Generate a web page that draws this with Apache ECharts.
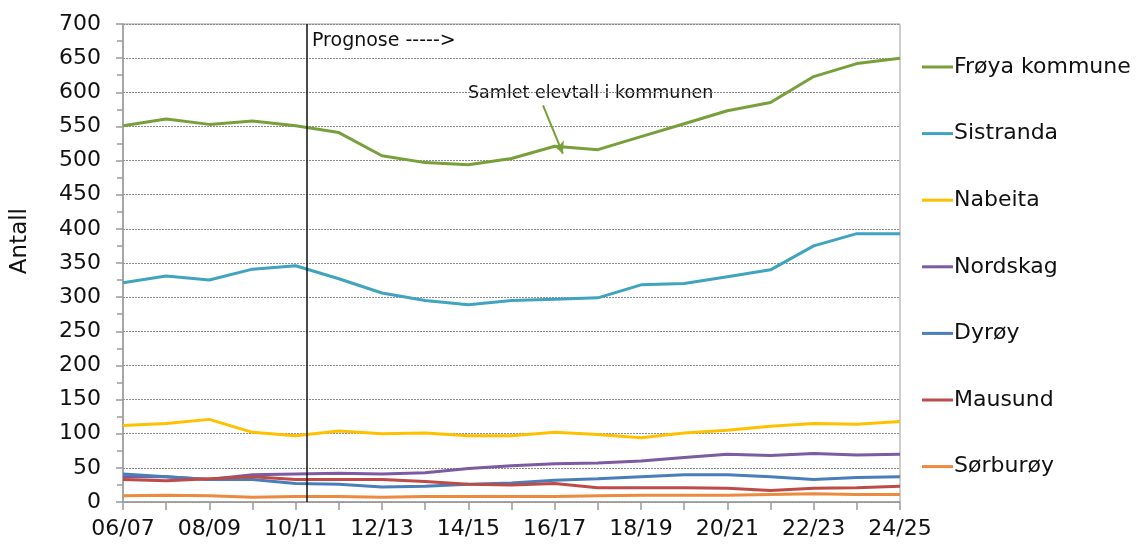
<!DOCTYPE html>
<html>
<head>
<meta charset="utf-8">
<script src="https://cdn.jsdelivr.net/npm/echarts@6/dist/echarts.min.js"></script>
<style>
  html, body { margin: 0; padding: 0; background: #fff; }
  #chart { width: 1141px; height: 550px; }
</style>
</head>
<body>
<div id="chart"></div>
<script>
// skoleår
var years = ["06/07", "07/08", "08/09", "09/10", "10/11", "11/12", "12/13", "13/14", "14/15", "15/16",
  "16/17", "17/18", "18/19", "19/20", "20/21", "21/22", "22/23", "23/24", "24/25"];

var froya     = [551, 561, 553, 558, 551, 541, 507, 497, 494, 503, 521, 516, 535, 554, 573, 585, 623, 642, 650];
var sistranda = [321, 331, 325, 341, 346, 327, 306, 295, 289, 295, 297, 299, 318, 320, 330, 340, 375, 393, 393];
var nabeita   = [112, 115, 121, 102, 97, 104, 100, 101, 97, 97, 102, 99, 94, 101, 105, 111, 115, 114, 118];
var nordskag  = [37, 37, 33, 40, 41, 42, 41, 43, 49, 53, 56, 57, 60, 65, 70, 68, 71, 69, 70];
var dyroy     = [41, 37, 33, 33, 27, 26, 22, 23, 26, 28, 32, 34, 37, 40, 40, 37, 33, 36, 37];
var mausund   = [33, 31, 34, 37, 33, 33, 33, 30, 26, 25, 27, 21, 21, 21, 20, 17, 20, 21, 23];
var sorburoy  = [9, 10, 9, 7, 8, 8, 7, 8, 8, 8, 8, 9, 10, 10, 10, 11, 12, 11, 11];

// prognose starter mellom 10/11 og 11/12 (indeks på kategoriaksen)
var prognoseAt = 4.25;
var arrowFrom = [9.73, 581];
var arrowTo = [10.19, 510];

var font = "DejaVu Sans";

var chart = echarts.init(document.getElementById("chart"));

function line(name, data, color) {
  return {
    name: name,
    type: "line",
    data: data,
    symbol: "none",
    lineStyle: { width: 3, color: color },
    itemStyle: { color: color }
  };
}

var option = {
  animation: false,
  grid: {
    left: 123, right: 241, top: 24, bottom: 48,
    show: true, borderColor: "#9a9a9a", borderWidth: 1
  },
  legend: {
    orient: "vertical",
    left: 917,
    top: 50,
    icon: "rect",
    itemWidth: 31,
    itemHeight: 3,
    itemGap: 42.6,
    data: ["Frøya kommune", "Sistranda", "Nabeita", "Nordskag", "Dyrøy", "Mausund", "Sørburøy"],
    textStyle: { fontFamily: font, fontSize: 22, color: "#111", lineHeight: 24, padding: [0, 0, 0, -4] }
  },
  xAxis: [
    {
      type: "category",
      data: years,
      boundaryGap: false,
      axisLine: { lineStyle: { color: "#9a9a9a", width: 1.5 } },
      axisTick: { interval: 0, length: 8, lineStyle: { color: "#9a9a9a", width: 1.5 } },
      axisLabel: { interval: 1, margin: 16, fontFamily: font, fontSize: 22, color: "#111" }
    },
    { type: "value", min: 0, max: 18, show: false }
  ],
  yAxis: {
    type: "value",
    min: 0,
    max: 700,
    interval: 50,
    axisLine: { show: true, lineStyle: { color: "#9a9a9a", width: 1.5 } },
    axisTick: { show: true, length: 7, lineStyle: { color: "#9a9a9a", width: 1.5 } },
    minorTick: { show: true, splitNumber: 2, length: 6, lineStyle: { color: "#9a9a9a", width: 1.5 } },
    axisLabel: { margin: 22, fontFamily: font, fontSize: 22, color: "#111" },
    splitLine: { lineStyle: { color: "#8a8a8a", type: [2, 1], width: 1 } }
  },
  graphic: [
    { type: "text", left: 312, top: 32, style: { text: "Prognose ----->", fontFamily: font, fontSize: 19, fill: "#111" } },
    { type: "text", left: 468, top: 84, style: { text: "Samlet elevtall i kommunen", fontFamily: font, fontSize: 17.5, fill: "#111" } },
    { type: "text", left: 9, top: 208, rotation: Math.PI / 2, style: { text: "Antall", fontFamily: font, fontSize: 23, fill: "#111" } }
  ],
  series: [
    line("Frøya kommune", froya, "#77a03b"),
    line("Sistranda", sistranda, "#40a4be"),
    line("Nabeita", nabeita, "#ffc000"),
    line("Nordskag", nordskag, "#7d5ba0"),
    line("Dyrøy", dyroy, "#4a7ebb"),
    line("Mausund", mausund, "#be4b48"),
    line("Sørburøy", sorburoy, "#ec8a3f"),
    {
      type: "line",
      xAxisIndex: 1,
      data: [[prognoseAt, 0]],
      symbol: "none",
      lineStyle: { opacity: 0 },
      silent: true,
      markLine: {
        silent: true,
        symbol: "none",
        label: { show: false },
        lineStyle: { color: "#111", type: "solid", width: 1.5 },
        data: [{ xAxis: prognoseAt }]
      }
    },
    {
      type: "line",
      xAxisIndex: 1,
      data: [arrowFrom],
      symbol: "none",
      lineStyle: { opacity: 0 },
      silent: true,
      markLine: {
        silent: true,
        symbol: ["none", "arrow"],
        symbolSize: [9, 12],
        label: { show: false },
        lineStyle: { color: "#77a03b", type: "solid", width: 2 },
        data: [[{ coord: arrowFrom }, { coord: arrowTo }]]
      }
    }
  ]
};

chart.setOption(option);
</script>
</body>
</html>
